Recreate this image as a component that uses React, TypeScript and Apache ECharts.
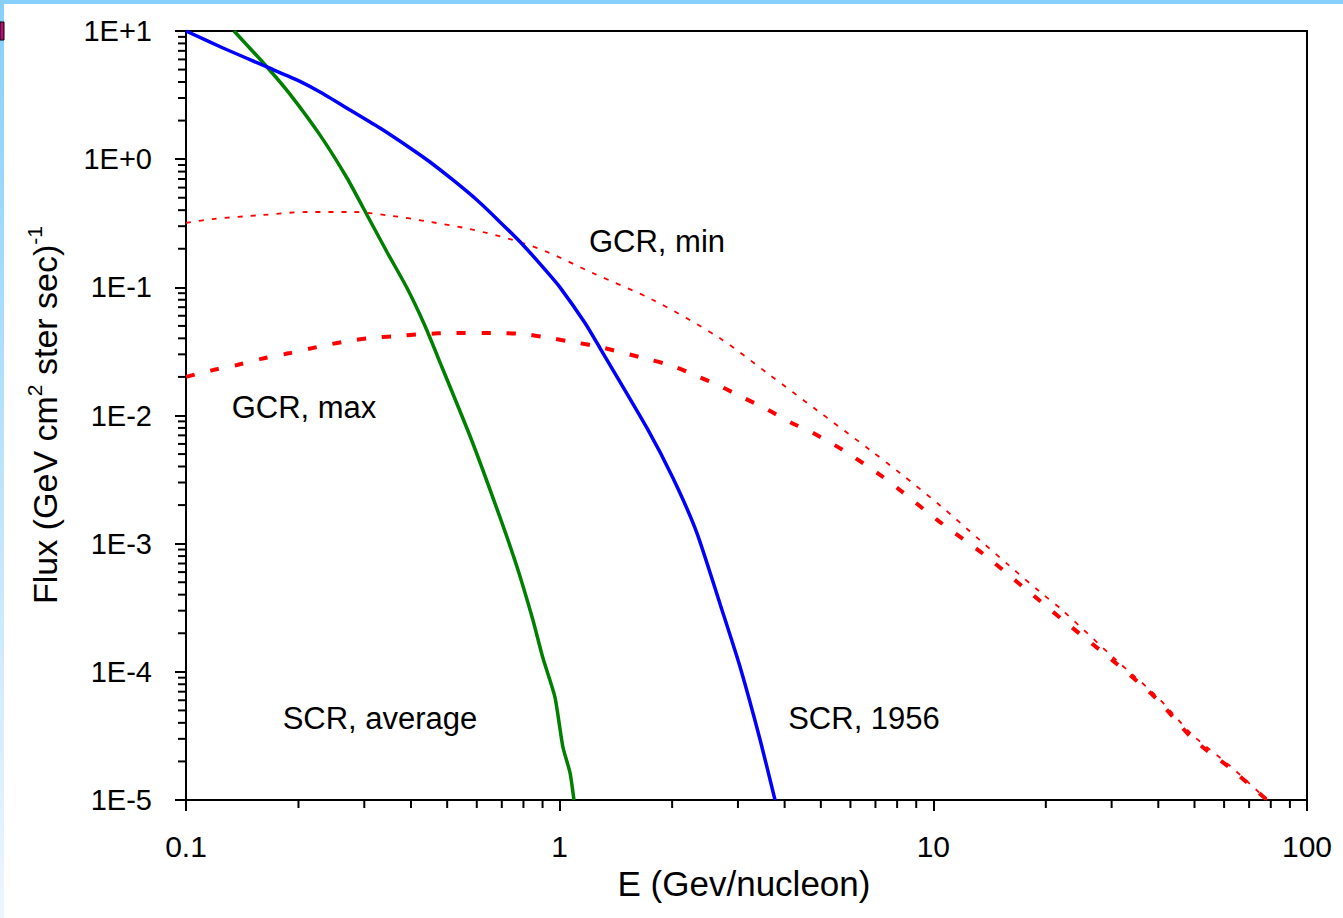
import React, { useEffect, useRef } from 'react';
import * as echarts from 'echarts';

// Tick labels
const xTickLabels = ['0.1', '1', '10', '100'];
const yTickLabels = ['1E-5', '1E-4', '1E-3', '1E-2', '1E-1', '1E+0', '1E+1'];
const xMinorTicks = [0.2, 0.3, 0.4, 0.5, 0.6, 0.7, 0.8, 0.9, 2, 3, 4, 5, 6, 7, 8, 9, 20, 30, 40, 50, 60, 70, 80, 90];
const yMinorTicks = [
  2e-5, 3e-5, 4e-5, 5e-5, 6e-5, 7e-5, 8e-5, 9e-5,
  2e-4, 3e-4, 4e-4, 5e-4, 6e-4, 7e-4, 8e-4, 9e-4,
  2e-3, 3e-3, 4e-3, 5e-3, 6e-3, 7e-3, 8e-3, 9e-3,
  0.02, 0.03, 0.04, 0.05, 0.06, 0.07, 0.08, 0.09,
  0.2, 0.3, 0.4, 0.5, 0.6, 0.7, 0.8, 0.9,
  2, 3, 4, 5, 6, 7, 8, 9,
];

// SCR, 1956 (blue)
const scr1956E = [0.1, 0.1256, 0.1647, 0.198, 0.2284, 0.2747, 0.3305, 0.405, 0.4497, 0.518, 0.6005, 0.692, 0.798, 0.925, 1.002, 1.169, 1.282, 1.712, 2.01, 2.33, 2.735, 3.04, 3.44, 3.77];
const scr1956F = [10, 7.37, 5.24, 4.15, 3.34, 2.42, 1.75, 1.18, 0.95, 0.688, 0.48, 0.324, 0.214, 0.132, 0.1, 0.0527, 0.0336, 0.008, 0.00325, 0.00121, 2.88e-4, 1.09e-4, 2.94e-5, 1e-5];

// SCR, average (green)
const scrAvgE = [0.1344, 0.1647, 0.1897, 0.2284, 0.2697, 0.3051, 0.345, 0.3904, 0.4362, 0.484, 0.581, 0.692, 0.769, 0.848, 0.902, 0.971, 1.02, 1.066, 1.092];
const scrAvgF = [10, 5.24, 3.22, 1.54, 0.713, 0.367, 0.1887, 0.0988, 0.0499, 0.0239, 0.00644, 0.00161, 6.58e-4, 2.54e-4, 1.28e-4, 6.37e-5, 2.59e-5, 1.63e-5, 1e-5];

// GCR, min (thin dotted red)
const gcrMinE = [0.1, 0.118, 0.1607, 0.2108, 0.28, 0.358, 0.4497, 0.575, 0.75, 0.925, 1.228, 1.778, 2.68, 3.65, 4.88, 6.77, 8.14, 10.55, 13.3, 16.0, 19.3, 22.1, 31.0, 39.7, 49.5, 62.2, 78.2];
const gcrMinF = [0.318, 0.341, 0.367, 0.387, 0.387, 0.36, 0.324, 0.285, 0.234, 0.189, 0.129, 0.0797, 0.0402, 0.0207, 0.011, 0.00538, 0.00356, 0.00193, 0.00107, 6.7e-4, 4.2e-4, 3.04e-4, 1.22e-4, 6.4e-5, 3.2e-5, 1.85e-5, 1e-5];

// GCR, max (thick dashed red)
const gcrMaxE = [0.1, 0.118, 0.137, 0.1627, 0.19, 0.2243, 0.263, 0.311, 0.367, 0.431, 0.518, 0.679, 0.798, 0.941, 1.08, 1.282, 1.712, 2.01, 2.33, 2.68, 3.08, 3.58, 4.13, 4.77, 5.84, 7.2, 8.14, 10.4, 13.5, 17.4, 22.2, 31.0, 39.7, 49.5, 62.2, 78.2];
const gcrMaxF = [0.02, 0.0226, 0.0248, 0.0281, 0.0307, 0.0342, 0.0375, 0.0402, 0.0417, 0.0432, 0.044, 0.044, 0.0432, 0.0402, 0.0375, 0.0342, 0.0276, 0.0243, 0.0203, 0.017, 0.0139, 0.0112, 0.0089, 0.0073, 0.00519, 0.00344, 0.00262, 0.00148, 8.45e-4, 4.59e-4, 2.54e-4, 1.15e-4, 6.1e-5, 3.0e-5, 1.78e-5, 1e-5];

const FONT = '"Liberation Sans", Arial, Helvetica, sans-serif';

export default function App() {
  const ref = useRef<HTMLDivElement>(null);

  useEffect(() => {
    const chart = echarts.init(ref.current as HTMLDivElement, null, { renderer: 'svg' });
    const pair = (xs: number[], ys: number[]) => xs.map((x, i) => [x, ys[i]]);

    const tickSeries = (vals: number[], horizontal: boolean) => ({
      type: 'custom',
      silent: true,
      clip: false,
      z: 10,
      data: vals.map((v) => (horizontal ? [v, 1e-5] : [0.1, v])),
      renderItem: (_params: any, api: any) => {
        const p = api.coord([api.value(0), api.value(1)]);
        return horizontal
          ? { type: 'line', shape: { x1: p[0], y1: p[1], x2: p[0], y2: p[1] + 8 }, style: { stroke: '#000', lineWidth: 2 } }
          : { type: 'line', shape: { x1: p[0], y1: p[1], x2: p[0] - 8, y2: p[1] }, style: { stroke: '#000', lineWidth: 2 } };
      },
    });

    const annot = (text: string, x: number, y: number) => ({
      type: 'text',
      x,
      y,
      z: 20,
      style: { text, fill: '#000', font: `31px ${FONT}`, align: 'center', verticalAlign: 'middle' },
    });

    chart.setOption({
      animation: false,
      backgroundColor: '#fff',
      grid: {
        left: 186,
        top: 31,
        right: 36,
        bottom: 118,
        show: true,
        borderColor: '#000',
        borderWidth: 2,
        backgroundColor: 'transparent',
      },
      xAxis: {
        type: 'log',
        logBase: 10,
        min: 0.1,
        max: 100,
        axisLine: { show: true, lineStyle: { color: '#000', width: 2 } },
        axisTick: { show: true, inside: false, length: 11, lineStyle: { color: '#000', width: 2 } },
        splitLine: { show: false },
        minorTick: { show: false },
        axisLabel: {
          margin: 31,
          color: '#000',
          fontSize: 30,
          fontFamily: FONT,
          showMinLabel: true,
          showMaxLabel: true,
          formatter: (v: number) => xTickLabels[Math.round(Math.log10(v)) + 1],
        },
      },
      yAxis: {
        type: 'log',
        logBase: 10,
        min: 1e-5,
        max: 10,
        axisLine: { show: true, lineStyle: { color: '#000', width: 2 } },
        axisTick: { show: true, inside: false, length: 11, lineStyle: { color: '#000', width: 2 } },
        splitLine: { show: false },
        axisLabel: {
          margin: 34,
          color: '#000',
          fontSize: 29,
          fontFamily: FONT,
          showMinLabel: true,
          showMaxLabel: true,
          formatter: (v: number) => yTickLabels[Math.round(Math.log10(v)) + 5],
        },
      },
      series: [
        {
          name: 'GCR, min',
          type: 'line',
          data: pair(gcrMinE, gcrMinF),
          showSymbol: false,
          smooth: 0.3,
          lineStyle: { color: '#FF0000', width: 1.8, type: [5, 8] },
          z: 3,
        },
        {
          name: 'GCR, max',
          type: 'line',
          data: pair(gcrMaxE, gcrMaxF),
          showSymbol: false,
          smooth: 0.3,
          lineStyle: { color: '#FF0000', width: 4, type: [9, 16] },
          z: 3,
        },
        {
          name: 'SCR, average',
          type: 'line',
          data: pair(scrAvgE, scrAvgF),
          showSymbol: false,
          smooth: 0.2,
          lineStyle: { color: '#008000', width: 3.5 },
          z: 4,
        },
        {
          name: 'SCR, 1956',
          type: 'line',
          data: pair(scr1956E, scr1956F),
          showSymbol: false,
          smooth: 0.2,
          lineStyle: { color: '#0000FF', width: 3.5 },
          z: 4,
        },
        tickSeries(xMinorTicks, true),
        tickSeries(yMinorTicks, false),
      ],
      graphic: [
        { type: 'rect', shape: { x: 0, y: 0, width: 1343, height: 4 }, style: { fill: '#87D0FB' }, z: 0 },
        {
          type: 'rect',
          shape: { x: 0, y: 4, width: 4, height: 914 },
          style: {
            fill: new echarts.graphic.LinearGradient(0, 0, 0, 1, [
              { offset: 0, color: '#87D0FB' },
              { offset: 1, color: '#EDF6FE' },
            ]),
          },
          z: 0,
        },
        { type: 'rect', shape: { x: 0, y: 22, width: 4, height: 18 }, style: { fill: '#B5107A', stroke: '#000', lineWidth: 1 }, z: 1 },
        annot('GCR, min', 657, 241),
        annot('GCR, max', 304, 407),
        annot('SCR, average', 380, 718),
        annot('SCR, 1956', 864, 718),
        {
          type: 'text',
          x: 744,
          y: 883,
          z: 20,
          style: { text: 'E (Gev/nucleon)', fill: '#000', font: `35px ${FONT}`, align: 'center', verticalAlign: 'middle' },
        },
        {
          type: 'text',
          x: 45,
          y: 415,
          rotation: Math.PI / 2,
          z: 20,
          style: {
            text: '{a|Flux (GeV cm}{s|2}{a| ster sec)}{s|-1}',
            align: 'center',
            verticalAlign: 'middle',
            fill: '#000',
            font: `34px ${FONT}`,
            rich: {
              a: { fontSize: 34, fontFamily: FONT, fill: '#000', lineHeight: 42, verticalAlign: 'middle' },
              s: { fontSize: 21, fontFamily: FONT, fill: '#000', lineHeight: 21, verticalAlign: 'top' },
            },
          },
        },
      ],
    });

    return () => chart.dispose();
  }, []);

  return (
    <div
      ref={ref}
      style={{ position: 'absolute', left: 0, top: 0, width: 1343, height: 918, background: '#fff' }}
    />
  );
}
